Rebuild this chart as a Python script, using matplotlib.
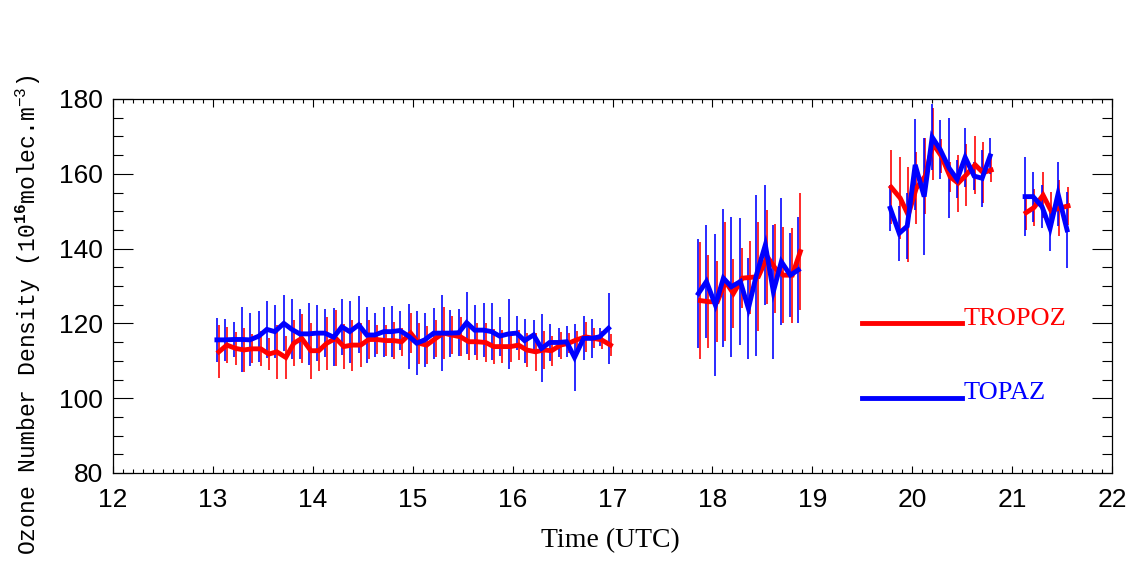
import matplotlib
matplotlib.use("Agg")
import matplotlib.pyplot as plt
from matplotlib.ticker import MultipleLocator

# ---------------- data ----------------
# TOPAZ (blue) segment times / values / errors
topaz_t1 = [13.04, 13.12, 13.21, 13.29, 13.37, 13.46, 13.54, 13.62, 13.71, 13.79, 13.87, 13.96,
            14.04, 14.12, 14.21, 14.29, 14.37, 14.46, 14.54, 14.62, 14.71, 14.79, 14.87, 14.96,
            15.04, 15.12, 15.21, 15.29, 15.37, 15.46, 15.54, 15.62, 15.71, 15.79, 15.87, 15.96,
            16.04, 16.12, 16.21, 16.29, 16.37, 16.46, 16.54, 16.62, 16.71, 16.79, 16.87, 16.96]
topaz_v1 = [115.6, 115.6, 115.7, 115.7, 115.6, 116.6, 118.4, 117.8, 120.0, 118.4, 117.2, 117.2,
            117.4, 117.4, 116.3, 119.1, 117.8, 119.6, 116.9, 116.9, 117.8, 117.8, 118.1, 116.6,
            114.7, 115.6, 117.4, 117.4, 117.4, 117.5, 120.2, 118.2, 118.2, 117.8, 116.6, 117.2,
            117.4, 115.4, 116.9, 113.3, 114.9, 114.9, 115.1, 110.9, 116.0, 116.0, 116.4, 118.7]
topaz_e1 = [5.8, 5.6, 4.8, 8.6, 7.1, 6.8, 7.6, 7.1, 7.5, 8.0, 6.7, 8.3,
            7.5, 6.5, 7.7, 7.5, 8.3, 7.6, 7.4, 5.9, 6.7, 6.9, 5.2, 8.7,
            8.5, 7.3, 6.8, 10.1, 6.3, 6.3, 8.3, 6.7, 7.2, 7.6, 5.2, 9.3,
            4.5, 5.9, 4.0, 9.1, 5.0, 4.0, 4.1, 8.9, 5.9, 5.2, 2.5, 9.5]

topaz_t2 = [17.86, 17.94, 18.03, 18.11, 18.19, 18.28, 18.36, 18.44, 18.53, 18.61, 18.69, 18.78, 18.86]
topaz_v2 = [128.0, 131.2, 124.9, 132.1, 129.8, 131.2, 124.0, 132.9, 141.0, 128.5, 136.5, 132.9, 134.3]
topaz_e2 = [14.6, 15.2, 18.9, 18.4, 18.7, 16.9, 13.5, 21.5, 16.0, 17.9, 17.0, 11.3, 14.2]

topaz_t3 = [19.78, 19.87, 19.95, 20.03, 20.12, 20.20, 20.28, 20.37, 20.45, 20.53, 20.62, 20.70, 20.78]
topaz_v3 = [150.8, 144.1, 146.0, 162.4, 153.9, 169.8, 166.5, 161.5, 158.5, 164.4, 159.4, 158.8, 164.8]
topaz_e3 = [6.2, 7.3, 8.9, 12.2, 15.7, 8.9, 8.0, 13.3, 5.1, 7.9, 3.8, 7.6, 4.9]

topaz_t4 = [21.13, 21.21, 21.30, 21.38, 21.46, 21.55]
topaz_v4 = [153.9, 153.9, 151.2, 145.4, 154.6, 145.0]
topaz_e4 = [10.5, 6.7, 5.8, 6.0, 8.5, 10.2]

# TROPOZ (red)
tropoz_t1 = [13.06, 13.14, 13.23, 13.31, 13.39, 13.48, 13.56, 13.64, 13.73, 13.81, 13.89, 13.98,
             14.06, 14.14, 14.23, 14.31, 14.39, 14.48, 14.56, 14.64, 14.73, 14.81, 14.89, 14.98,
             15.06, 15.14, 15.23, 15.31, 15.39, 15.48, 15.56, 15.64, 15.73, 15.81, 15.89, 15.98,
             16.06, 16.14, 16.23, 16.31, 16.39, 16.48, 16.56, 16.64, 16.73, 16.81, 16.89, 16.98]
tropoz_v1 = [112.4, 114.2, 113.3, 112.9, 113.2, 113.2, 111.8, 112.4, 110.9, 114.7, 116.0, 112.7,
             112.7, 114.7, 116.0, 113.8, 114.2, 114.2, 115.7, 115.7, 115.4, 115.4, 115.1, 117.4,
             114.7, 114.2, 116.0, 117.4, 116.9, 116.4, 115.1, 115.1, 114.9, 113.8, 113.8, 113.8,
             114.2, 112.9, 112.4, 112.9, 112.7, 114.2, 114.7, 115.6, 116.4, 116.0, 115.6, 114.2]
tropoz_e1 = [7.1, 4.8, 4.3, 5.8, 3.9, 4.7, 4.2, 7.2, 5.8, 6.2, 6.5, 7.5,
             5.4, 7.1, 7.5, 6.1, 6.8, 5.8, 5.1, 4.0, 4.2, 5.0, 3.8, 5.4,
             5.5, 5.0, 5.0, 7.0, 5.0, 5.2, 5.0, 5.0, 5.3, 4.7, 4.5, 4.0,
             4.0, 4.5, 5.0, 5.1, 4.0, 3.6, 2.7, 2.5, 4.0, 2.7, 2.5, 3.0]

tropoz_t2 = [17.88, 17.96, 18.05, 18.13, 18.21, 18.30, 18.38, 18.46, 18.55, 18.63, 18.71, 18.80, 18.88]
tropoz_v2 = [126.1, 125.8, 125.8, 131.2, 128.0, 132.1, 132.3, 132.5, 137.8, 134.7, 132.9, 132.9, 139.2]
tropoz_e2 = [15.6, 12.5, 10.9, 16.0, 9.1, 8.0, 9.8, 14.5, 12.5, 12.0, 12.9, 12.7, 15.6]

tropoz_t3 = [19.79, 19.88, 19.96, 20.04, 20.13, 20.21, 20.29, 20.38, 20.46, 20.54, 20.63, 20.71, 20.79]
tropoz_v3 = [156.4, 153.5, 149.0, 156.1, 159.4, 168.0, 164.8, 159.2, 157.5, 159.7, 162.4, 160.3, 161.0]
tropoz_e3 = [9.9, 10.9, 12.7, 9.6, 10.2, 9.6, 4.5, 4.0, 7.6, 8.2, 7.7, 8.2, 3.1]

tropoz_t4 = [21.14, 21.22, 21.31, 21.39, 21.47, 21.56]
tropoz_v4 = [149.6, 151.0, 154.3, 150.1, 150.8, 151.4]
tropoz_e4 = [4.5, 5.0, 6.2, 5.0, 7.5, 5.0]

legend_names = ["TROPOZ", "TOPAZ"]
legend_levels = [120, 100]
legend_x = [19.5, 20.5]

x_ticks = [12, 13, 14, 15, 16, 17, 18, 19, 20, 21, 22]
y_ticks = [80, 100, 120, 140, 160, 180]

RED = (1, 0, 0)
BLUE = (0, 0, 1)

# ---------------- figure ----------------
plt.rcParams['mathtext.fontset'] = 'custom'
plt.rcParams['mathtext.rm'] = 'Liberation Mono'
plt.rcParams['mathtext.bf'] = 'Liberation Mono:bold'

fig = plt.figure(figsize=(11.33, 5.66), dpi=100)
ax = fig.add_axes([113 / 1133, 1 - 473 / 566, 999 / 1133, 374 / 566])

tropoz = [(tropoz_t1, tropoz_v1, tropoz_e1), (tropoz_t2, tropoz_v2, tropoz_e2),
          (tropoz_t3, tropoz_v3, tropoz_e3), (tropoz_t4, tropoz_v4, tropoz_e4)]
topaz = [(topaz_t1, topaz_v1, topaz_e1), (topaz_t2, topaz_v2, topaz_e2),
         (topaz_t3, topaz_v3, topaz_e3), (topaz_t4, topaz_v4, topaz_e4)]

for t, v, e in tropoz:
    ax.errorbar(t, v, yerr=e, fmt='none', ecolor=RED, elinewidth=1.3, capsize=0, zorder=1, alpha=0.9)
for t, v, e in topaz:
    ax.errorbar(t, v, yerr=e, fmt='none', ecolor=BLUE, elinewidth=1.3, capsize=0, zorder=1, alpha=0.9)
for t, v, e in tropoz:
    ax.plot(t, v, color=RED, lw=3.5, zorder=2, solid_joinstyle='miter')
for t, v, e in topaz:
    ax.plot(t, v, color=BLUE, lw=3.5, zorder=3, solid_joinstyle='miter')

# legend drawn inside plot
for name, lev, col in zip(legend_names, legend_levels, [RED, BLUE]):
    ax.plot(legend_x, [lev, lev], color=col, lw=3.5, zorder=3)
    ax.text(legend_x[1] + 0.01, lev - 0.3, name, color=col, fontsize=19,
            family='Liberation Serif', ha='left', va='baseline')

ax.set_xlim(12, 22)
ax.set_ylim(80, 180)
ax.set_xticks(x_ticks)
ax.set_yticks(y_ticks)
ax.xaxis.set_minor_locator(MultipleLocator(0.1))
ax.yaxis.set_minor_locator(MultipleLocator(5))

ax.tick_params(axis='both', which='both', direction='in', top=True, right=True, color='black', width=0.8)
ax.tick_params(axis='x', which='major', length=5.4, pad=11)
ax.tick_params(axis='x', which='minor', length=2.7)
ax.tick_params(axis='y', which='major', length=14.4, pad=7)
ax.tick_params(axis='y', which='minor', length=7.2)
for lab in ax.get_xticklabels() + ax.get_yticklabels():
    lab.set_fontfamily('Liberation Sans')
    lab.set_fontsize(19)
for sp in ax.spines.values():
    sp.set_linewidth(0.9)

fig.text(610 / 1133, 1 - 541 / 566, "Time (UTC)", ha='center', va='center',
         fontsize=20, family='Liberation Serif')
fig.text(28 / 1133, 1 - 315 / 566, r"Ozone Number Density (10$^{\mathbf{16}}$molec.m$^{-3}$)",
         ha='center', va='center', rotation=90, fontsize=16.6, family='Liberation Mono')

fig.savefig("out.png", dpi=100)
